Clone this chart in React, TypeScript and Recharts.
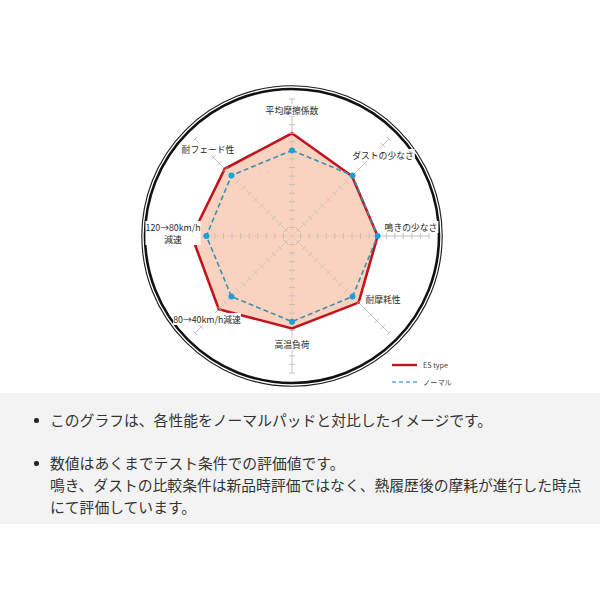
import React from "react";
import {
  RadarChart,
  Radar,
  PolarGrid,
  PolarAngleAxis,
  PolarRadiusAxis,
  Legend,
  Customized,
} from "recharts";

// values (scale 0..16, normal pad = 10 everywhere)
const categories = [
  "平均摩擦係数",
  "ダストの少なさ",
  "鳴きの少なさ",
  "耐摩耗性",
  "高温負荷",
  "80→40km/h減速",
  "120→80km/h\n減速",
  "耐フェード性",
];
const esTypeValues = [12, 9.9, 10, 11, 10.8, 12.1, 11.7, 11.1];
const normalValues = [10, 10, 10, 10, 10, 10, 10, 10];
const radiusTicks = [0, 1, 2, 3, 4, 5, 6, 7, 8, 9, 10, 11, 12, 13, 14, 15, 16];
const seriesNames = ["ES type", "ノーマル"];
const notes = [
  ["このグラフは、各性能をノーマルパッドと対比したイメージです。"],
  [
    "数値はあくまでテスト条件での評価値です。",
    "鳴き、ダストの比較条件は新品時評価ではなく、熱履歴後の摩耗が進行した時点",
    "にて評価しています。",
  ],
];

const data = categories.map((c, i) => ({
  axis: c,
  es: esTypeValues[i],
  normal: normalValues[i],
}));

const CX = 292;
const CY = 236;
const OUTER = 137;
const RED = "#c0141f";
const BLUE_LINE = "#3d8ead";
const BLUE_DOT = "#1b9fd8";
const GRID = "#bdbdbd";
const JP = '"Noto Sans CJK JP", "Noto Sans", sans-serif';

// label centre offsets from the chart centre (layout only)
const labelOffsets = [
  [0, -126],
  [91, -81],
  [119, -9],
  [91, 63],
  [0, 108],
  [-85, 83],
  [-119, -3],
  [-84, -87],
];

const textWidth = (s: string, fs: number) =>
  [...s].reduce((w, ch) => w + (ch.charCodeAt(0) < 256 ? fs * 0.56 : fs), 0);

function AngleLabel(props: any) {
  const { payload, index } = props;
  const [dx, dy] = labelOffsets[index] ?? [0, 0];
  const lines = String(payload.value).split("\n");
  const fs = 8.8;
  const lh = 12;
  const x = CX + dx;
  const y = CY + dy;
  const w = Math.max(...lines.map((l) => textWidth(l, fs))) + 2;
  const h = lines.length * lh;
  return (
    <g>
      <rect x={x - w / 2} y={y - h / 2} width={w} height={h} fill="#fff" />
      {lines.map((l, i) => (
        <text
          key={i}
          x={x}
          y={y - h / 2 + lh * i + lh / 2}
          textAnchor="middle"
          dominantBaseline="central"
          fontSize={fs}
          fontFamily={JP}
          fill="#2a2a2a"
        >
          {l}
        </text>
      ))}
    </g>
  );
}

// small cross marks at every unit on all eight axes
function CrossTicks(props: any) {
  const { x, y, payload } = props;
  const r =
    payload && typeof payload.coordinate === "number"
      ? payload.coordinate
      : Math.hypot(x - CX, y - CY);
  if (r < 1) return <g />;
  return (
    <g>
      {categories.map((_, i) => {
        const a = ((90 - i * 45) * Math.PI) / 180;
        const px = CX + r * Math.cos(a);
        const py = CY - r * Math.sin(a);
        const ox = Math.sin(a) * 3;
        const oy = Math.cos(a) * 3;
        return (
          <line
            key={i}
            x1={px - ox}
            y1={py - oy}
            x2={px + ox}
            y2={py + oy}
            stroke={GRID}
            strokeWidth={0.9}
          />
        );
      })}
    </g>
  );
}

function Ring() {
  return (
    <g>
      <circle cx={CX} cy={CY} r={150.2} fill="none" stroke="#1a1a1a" strokeWidth={1.1} />
      <circle cx={CX} cy={CY} r={147} fill="none" stroke="#111" strokeWidth={2.6} />
    </g>
  );
}

function NormalDot(props: any) {
  const { cx, cy, index } = props;
  return <circle key={`d-${index}`} cx={cx} cy={cy} r={3} fill={BLUE_DOT} />;
}

function LegendBox(props: any) {
  const items = props.payload ?? [];
  return (
    <svg width={72} height={34}>
      {items.map((e: any, i: number) => {
        const y = 10 + i * 17;
        const dashed = i === 1;
        return (
          <g key={i}>
            <line
              x1={4}
              x2={29}
              y1={y}
              y2={y}
              stroke={dashed ? "#5aa8d4" : RED}
              strokeWidth={dashed ? 1.3 : 2.4}
              strokeDasharray={dashed ? "4 3" : undefined}
            />
            <text
              x={35}
              y={y}
              dominantBaseline="central"
              fontSize={7.2}
              fontFamily={JP}
              fill="#444"
            >
              {e.value ?? seriesNames[i]}
            </text>
          </g>
        );
      })}
    </svg>
  );
}

export default function App() {
  return (
    <div
      style={{
        position: "absolute",
        left: 0,
        top: 0,
        width: 600,
        height: 600,
        background: "#fff",
        fontFamily: JP,
      }}
    >
      <RadarChart
        width={600}
        height={390}
        data={data}
        cx={CX}
        cy={CY}
        outerRadius={OUTER}
        margin={{ top: 0, right: 0, bottom: 0, left: 0 }}
      >
        <Customized component={Ring} />
        <PolarGrid gridType="polygon" polarRadius={[0]} stroke={GRID} strokeWidth={0.9} />
        <PolarRadiusAxis
          angle={90}
          domain={[0, 16]}
          ticks={radiusTicks as any}
          tickCount={17}
          axisLine={false}
          tick={(p: any) => <CrossTicks {...p} />}
        />
        <Radar
          name={seriesNames[0]}
          dataKey="es"
          stroke={RED}
          strokeWidth={2.6}
          fill="#f7c6ad"
          fillOpacity={0.78}
          dot={false}
          isAnimationActive={false}
        />
        <Radar
          name={seriesNames[1]}
          dataKey="normal"
          stroke={BLUE_LINE}
          strokeWidth={1.6}
          strokeDasharray="5 3"
          fill="none"
          fillOpacity={0}
          dot={(p: any) => <NormalDot {...p} />}
          isAnimationActive={false}
        />
        <PolarAngleAxis
          dataKey="axis"
          tickLine={false}
          axisLine={false}
          tick={(p: any) => <AngleLabel {...p} />}
        />
        <Legend
          layout="horizontal"
          verticalAlign="middle"
          align="right"
          width={72}
          height={34}
          wrapperStyle={{ left: 388, top: 355, right: "auto" }}
          content={(p: any) => <LegendBox {...p} />}
        />
      </RadarChart>

      <div
        style={{
          position: "absolute",
          left: 0,
          top: 393,
          width: 600,
          height: 131,
          background: "#f3f3f3",
        }}
      />
      {notes.map((para, pi) => {
        const top0 = pi === 0 ? 409 : 452;
        return (
          <React.Fragment key={pi}>
            <span
              style={{
                position: "absolute",
                left: 34,
                top: top0 + 9,
                width: 4.5,
                height: 4.5,
                borderRadius: "50%",
                background: "#222",
              }}
            />
            {para.map((line, li) => (
              <div
                key={li}
                style={{
                  position: "absolute",
                  left: 50,
                  top: top0 + li * 22,
                  fontSize: 14.8,
                  lineHeight: "22px",
                  whiteSpace: "nowrap",
                  color: "#333",
                }}
              >
                {line}
              </div>
            ))}
          </React.Fragment>
        );
      })}
    </div>
  );
}
